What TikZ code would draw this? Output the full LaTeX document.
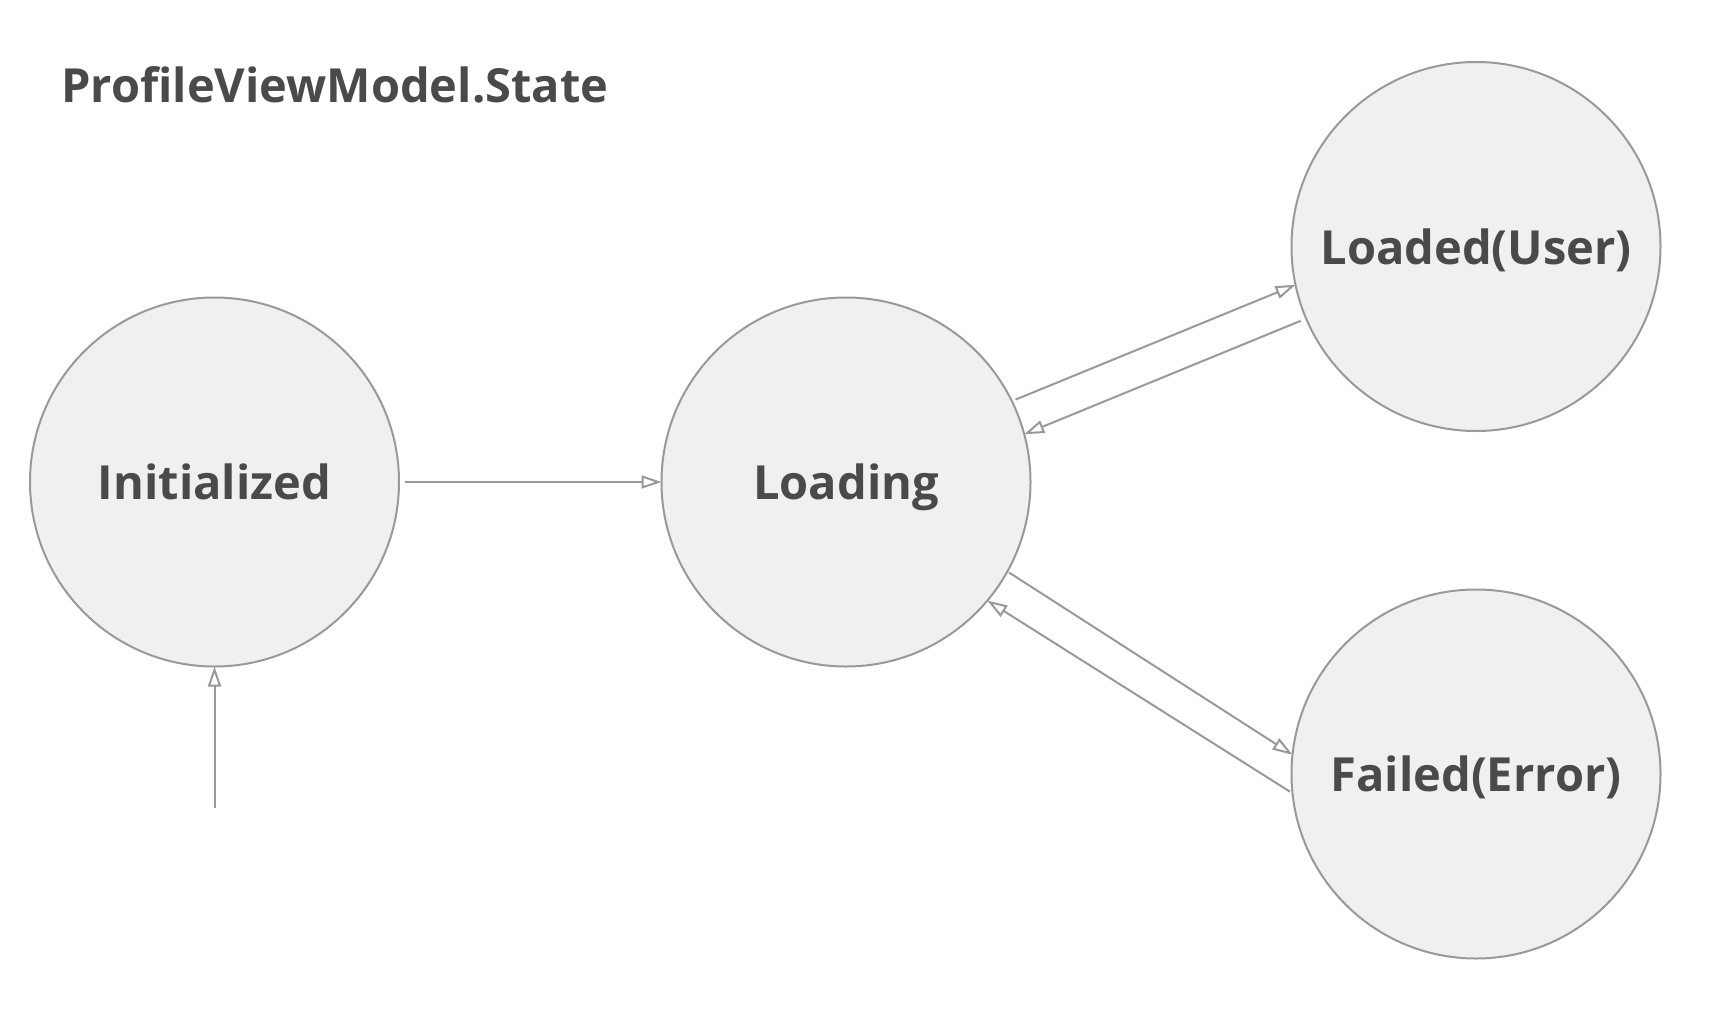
\documentclass[tikz,border=0pt]{standalone}
\usepackage{fontspec}
\setmainfont{Open Sans}[Ligatures=NoCommon]
\usetikzlibrary{arrows.meta}
\definecolor{txt}{HTML}{4A4A4A}
\definecolor{edgec}{HTML}{999999}
\definecolor{fillc}{HTML}{F0F0F0}
\begin{document}
\begin{tikzpicture}[x=1pt,y=-1pt,
  state/.style={circle, draw=edgec, fill=fillc, line width=2pt, minimum size=369pt, inner sep=0pt, outer sep=0pt,
    text depth=0pt, font=\fontsize{47}{50}\selectfont\bfseries, text=txt},
  tr/.style={draw=edgec, line width=2pt, -{Triangle[open, length=20pt, width=13pt]}}]
\useasboundingbox (0,0) rectangle (1734,1020);
\node[anchor=base west, text=txt, font=\fontsize{47}{52}\selectfont\bfseries, inner sep=0pt] (title) at (61,102) {ProfileViewModel.State};
\node[state] (init) at (214.5,482) {Initialized};
\node[state] (loading) at (846,482) {Loading};
\node[state] (loaded) at (1476,246.5) {Loaded(User)};
\node[state] (failed) at (1476,774) {Failed(Error)};
\draw[tr, shorten <=6pt] (init.east) -- (loading.west);
\draw[tr, shorten <=4pt] (loading.26) -- (loaded.192);
\draw[tr, shorten <=6pt] (loaded.203) -- (loading.15);
\draw[tr, shorten <=2pt] (loading.-29) -- (failed.174);
\draw[tr, shorten <=3pt] (failed.186) -- (loading.-40);
\coordinate (start) at (214.5,808);
\draw[tr] (start) -- (init.south);
\end{tikzpicture}
\end{document}
